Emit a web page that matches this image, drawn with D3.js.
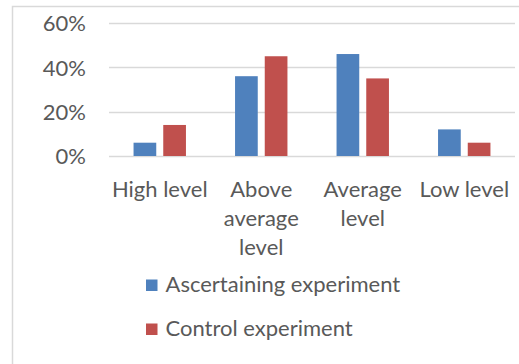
<!DOCTYPE html>
<html>
<head>
<meta charset="utf-8">
<script src="https://cdn.jsdelivr.net/npm/d3@7"></script>
<style>
  html, body { margin: 0; padding: 0; background: #fff; }
  svg { display: block; }
  text { font-family: Lato, "Open Sans", sans-serif; fill: #595959; }
</style>
</head>
<body>
<svg id="chart" width="519" height="364"></svg>
<script>
// Share of students at each level, before and after the experiment
const categories = ["High level", "Above average level", "Average level", "Low level"];
const seriesNames = ["Ascertaining experiment", "Control experiment"];
const ascertaining = [0.06, 0.36, 0.46, 0.12];
const control = [0.14, 0.45, 0.35, 0.06];
const yTicks = [0, 0.2, 0.4, 0.6];
const colors = ["#4f81bd", "#c0504d"];

const svg = d3.select("#chart");
const FS = 22;

// outer chart frame (extends past the right and bottom edges)
svg.append("rect")
  .attr("x", 12.5).attr("y", 6.5)
  .attr("width", 520).attr("height", 370)
  .attr("fill", "#fff").attr("stroke", "#d9d9d9").attr("stroke-width", 1.5);

const plot = { left: 109, right: 515, top: 23, bottom: 156 };

const x = d3.scaleBand().domain(categories).range([plot.left, plot.right]).paddingInner(0).paddingOuter(0);
const y = d3.scaleLinear().domain([0, 0.6]).range([plot.bottom, plot.top]);

// gridlines
svg.append("g").selectAll("line").data(yTicks).join("line")
  .attr("x1", plot.left).attr("x2", plot.right)
  .attr("y1", d => Math.round(y(d)) + 0.5).attr("y2", d => Math.round(y(d)) + 0.5)
  .attr("stroke", "#d9d9d9").attr("stroke-width", 1.3);

// y axis labels
const yAxis = d3.axisLeft(y).tickValues(yTicks).tickFormat(d3.format(".0%")).tickSize(0).tickPadding(0);
const ya = svg.append("g").attr("transform", `translate(86,0)`).call(yAxis);
ya.select(".domain").remove();
ya.selectAll("text").attr("font-size", FS).attr("fill", "#595959")
  .style("font-family", "Lato, sans-serif").attr("dy", "0.35em");

// bars
const barW = 22.7, gap = 7;
const series = [ascertaining, control];
series.forEach((vals, si) => {
  svg.append("g").selectAll("rect").data(vals).join("rect")
    .attr("x", (d, i) => x(categories[i]) + x.bandwidth() / 2 - gap / 2 - barW + si * (barW + gap))
    .attr("y", d => y(d))
    .attr("width", barW)
    .attr("height", d => y(0) - y(d))
    .attr("fill", colors[si]);
});

// category labels, wrapped to the band width
const xa = svg.append("g");
categories.forEach(c => {
  const cx = x(c) + x.bandwidth() / 2;
  const t = xa.append("text")
    .attr("text-anchor", "middle")
    .attr("font-size", FS)
    .attr("x", cx)
    .attr("y", 197);
  const words = c.split(" ");
  let line = [], lines = [];
  const probe = svg.append("text").attr("font-size", FS);
  words.forEach(w => {
    const trial = line.concat(w).join(" ");
    probe.text(trial);
    if (line.length && probe.node().getComputedTextLength() > x.bandwidth()) {
      lines.push(line.join(" "));
      line = [w];
    } else line.push(w);
  });
  lines.push(line.join(" "));
  probe.remove();
  lines.forEach((l, i) => {
    t.append("tspan").attr("x", cx).attr("dy", i ? 29 : 0).text(l);
  });
});

// legend
const lg = svg.append("g");
seriesNames.forEach((n, i) => {
  const base = 292 + i * 44;
  lg.append("rect").attr("x", 146).attr("y", base - 12.5).attr("width", 11.5).attr("height", 11.5).attr("fill", colors[i]);
  lg.append("text").attr("x", 165.5).attr("y", base).attr("font-size", FS).text(n);
});
</script>
</body>
</html>
